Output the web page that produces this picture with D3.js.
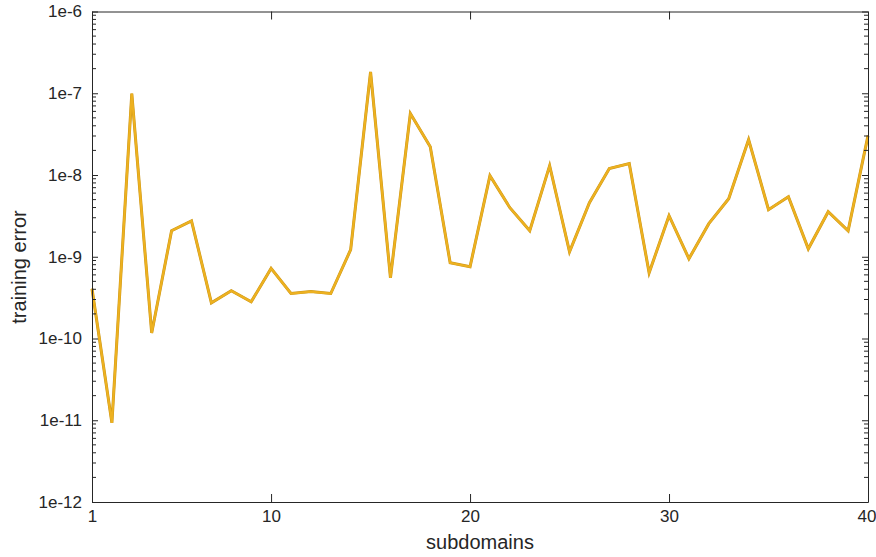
<!DOCTYPE html>
<html>
<head>
<meta charset="utf-8">
<script src="https://cdn.jsdelivr.net/npm/d3@7"></script>
<style>
  html, body { margin: 0; padding: 0; background: #fff; }
  svg { display: block; }
  text { font-family: "Liberation Sans", Arial, Helvetica, sans-serif; fill: #262626; }
</style>
</head>
<body>
<svg id="chart" width="876" height="557"></svg>
<script>
// ---- data ----
const subdomains = d3.range(1, 41);
const trainingError = [
  4.07e-10, 9.3e-12, 9.9e-8, 1.17e-10, 2.08e-9, 2.75e-9, 2.73e-10, 3.84e-10, 2.81e-10, 7.2e-10,
  3.55e-10, 3.75e-10, 3.55e-10, 1.22e-9, 1.82e-7, 5.53e-10, 5.64e-8, 2.22e-8, 8.45e-10, 7.55e-10,
  9.8e-9, 3.98e-9, 2.08e-9, 1.30e-8, 1.15e-9, 4.58e-9, 1.20e-8, 1.38e-8, 6.37e-10, 3.18e-9,
  9.46e-10, 2.54e-9, 5.13e-9, 2.71e-8, 3.76e-9, 5.43e-9, 1.25e-9, 3.56e-9, 2.08e-9, 3.03e-8
];
const xTicks = [1, 10, 20, 30, 40];
const yTicks = [1e-12, 1e-11, 1e-10, 1e-9, 1e-8, 1e-7, 1e-6];
const yTickLabels = ["1e-12", "1e-11", "1e-10", "1e-9", "1e-8", "1e-7", "1e-6"];
const xLabel = "subdomains";
const yLabel = "training error";

// ---- layout ----
const pLeft = 92, pRight = 868, pTop = 11.5, pBottom = 502;
const svg = d3.select("#chart");
const x = d3.scaleLinear().domain([1, 40]).range([pLeft, pRight]);
const y = d3.scaleLog().domain([1e-12, 1e-6]).range([pBottom, pTop]);

const axisColor = "#262626";

// minor ticks
const minor = [];
for (let e = -12; e < -6; e++) for (let m = 2; m <= 9; m++) minor.push(m * Math.pow(10, e));

const g = svg.append("g");

// data line
const line = d3.line().x((d, i) => x(subdomains[i])).y(d => y(d));
g.append("path").datum(trainingError)
  .attr("d", line).attr("fill", "none")
  .attr("stroke", "#C99418").attr("stroke-width", 3.0)
  .attr("stroke-linejoin", "miter");
g.append("path").datum(trainingError)
  .attr("d", line).attr("fill", "none")
  .attr("stroke", "#EDB120").attr("stroke-width", 2.2)
  .attr("stroke-linejoin", "miter");

// axes (bottom / left with labels), top / right without
const xAxisB = d3.axisBottom(x).tickValues(xTicks).tickSizeInner(-8).tickSizeOuter(0).tickPadding(8);
const xAxisT = d3.axisTop(x).tickValues(xTicks).tickSizeInner(-8).tickSizeOuter(0).tickFormat("");
const yAxisL = d3.axisLeft(y).tickValues(yTicks).tickSizeInner(-6).tickSizeOuter(0).tickPadding(10)
  .tickFormat((d, i) => yTickLabels[i]);
const yAxisR = d3.axisRight(y).tickValues(yTicks).tickSizeInner(-6).tickSizeOuter(0).tickFormat("");

function style(sel) {
  sel.select(".domain").attr("stroke", axisColor).attr("stroke-width", 1);
  sel.selectAll(".tick line").attr("stroke", axisColor).attr("stroke-width", 1);
  sel.selectAll(".tick text").attr("font-size", 17).attr("fill", axisColor)
    .style("font-family", '"Liberation Sans", Arial, Helvetica, sans-serif');
}
const xb = svg.append("g").attr("transform", `translate(0,${pBottom})`).call(xAxisB).call(style);
// keep the last label inside the canvas
xb.selectAll(".tick text").filter(d => d === 40).attr("text-anchor", "end").attr("x", 8);
svg.append("g").attr("transform", `translate(0,${pTop})`).call(xAxisT).call(style);
svg.append("g").attr("transform", `translate(${pLeft},0)`).call(yAxisL).call(style);
svg.append("g").attr("transform", `translate(${pRight},0)`).call(yAxisR).call(style);

// minor y ticks
const minorG = svg.append("g");
minorG.selectAll("line.ml").data(minor).join("line")
  .attr("x1", pLeft).attr("x2", pLeft + 4)
  .attr("y1", d => y(d)).attr("y2", d => y(d))
  .attr("stroke", axisColor).attr("stroke-width", 1);
minorG.selectAll("line.mr").data(minor).join("line")
  .attr("x1", pRight).attr("x2", pRight - 4)
  .attr("y1", d => y(d)).attr("y2", d => y(d))
  .attr("stroke", axisColor).attr("stroke-width", 1);

// labels
svg.append("text").attr("x", (pLeft + pRight) / 2).attr("y", 549)
  .attr("text-anchor", "middle").attr("font-size", 20).text(xLabel);
svg.append("text").attr("transform", `translate(26,267) rotate(-90)`)
  .attr("text-anchor", "middle").attr("font-size", 20).text(yLabel);
</script>
</body>
</html>
